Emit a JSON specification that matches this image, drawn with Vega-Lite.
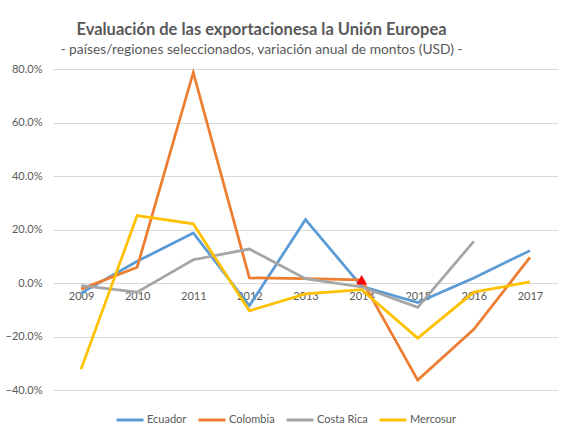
{
  "$schema": "https://vega.github.io/schema/vega-lite/v6.json",
  "autosize": "none",
  "width": 505,
  "height": 321,
  "padding": {"left": 53, "top": 69, "right": 15, "bottom": 46},
  "background": "white",
  "title": {
    "text": "Evaluación de las exportacionesa la Unión Europea",
    "subtitle": "- países/regiones seleccionados, variación anual de montos (USD) -",
    "anchor": "middle",
    "dx": -44,
    "offset": 6,
    "font": "Lato",
    "fontSize": 16.5,
    "fontWeight": "bold",
    "color": "#595959",
    "subtitleFont": "Lato",
    "subtitleFontSize": 13.8,
    "subtitleColor": "#595959",
    "subtitlePadding": 5
  },
  "config": {
    "view": {"stroke": null},
    "font": "Lato",
    "axis": {"labelColor": "#595959", "labelFontSize": 11, "labelFont": "Lato"},
    "legend": {"labelColor": "#595959", "labelFontSize": 11, "labelFont": "Lato"}
  },
  "data": {
    "values": [
      {"year": "2009", "pais": "Ecuador", "var": -0.038},
      {"year": "2010", "pais": "Ecuador", "var": 0.081},
      {"year": "2011", "pais": "Ecuador", "var": 0.187},
      {"year": "2012", "pais": "Ecuador", "var": -0.085},
      {"year": "2013", "pais": "Ecuador", "var": 0.237},
      {"year": "2014", "pais": "Ecuador", "var": -0.012},
      {"year": "2015", "pais": "Ecuador", "var": -0.073},
      {"year": "2016", "pais": "Ecuador", "var": 0.019},
      {"year": "2017", "pais": "Ecuador", "var": 0.121},
      {"year": "2009", "pais": "Colombia", "var": -0.023},
      {"year": "2010", "pais": "Colombia", "var": 0.059},
      {"year": "2011", "pais": "Colombia", "var": 0.787},
      {"year": "2012", "pais": "Colombia", "var": 0.019},
      {"year": "2013", "pais": "Colombia", "var": 0.016},
      {"year": "2014", "pais": "Colombia", "var": 0.012},
      {"year": "2015", "pais": "Colombia", "var": -0.363},
      {"year": "2016", "pais": "Colombia", "var": -0.173},
      {"year": "2017", "pais": "Colombia", "var": 0.096},
      {"year": "2009", "pais": "Costa Rica", "var": -0.010},
      {"year": "2010", "pais": "Costa Rica", "var": -0.034},
      {"year": "2011", "pais": "Costa Rica", "var": 0.087},
      {"year": "2012", "pais": "Costa Rica", "var": 0.127},
      {"year": "2013", "pais": "Costa Rica", "var": 0.016},
      {"year": "2014", "pais": "Costa Rica", "var": -0.015},
      {"year": "2015", "pais": "Costa Rica", "var": -0.091},
      {"year": "2016", "pais": "Costa Rica", "var": 0.156},
      {"year": "2009", "pais": "Mercosur", "var": -0.322},
      {"year": "2010", "pais": "Mercosur", "var": 0.252},
      {"year": "2011", "pais": "Mercosur", "var": 0.221},
      {"year": "2012", "pais": "Mercosur", "var": -0.104},
      {"year": "2013", "pais": "Mercosur", "var": -0.041},
      {"year": "2014", "pais": "Mercosur", "var": -0.025},
      {"year": "2015", "pais": "Mercosur", "var": -0.206},
      {"year": "2016", "pais": "Mercosur", "var": -0.034},
      {"year": "2017", "pais": "Mercosur", "var": 0.004}
    ]
  },
  "layer": [
    {
      "mark": {"type": "line", "strokeWidth": 2.75},
      "encoding": {
        "x": {
          "field": "year",
          "type": "ordinal",
          "scale": {"padding": 0.5},
          "axis": {
            "title": null,
            "labelAngle": 0,
            "offset": -107,
            "domain": false,
            "ticks": false,
            "grid": false,
            "labelPadding": 7
          }
        },
        "y": {
          "field": "var",
          "type": "quantitative",
          "scale": {"domain": [-0.4, 0.8], "nice": false},
          "axis": {
            "title": null,
            "values": [-0.4, -0.2, 0, 0.2, 0.4, 0.6, 0.8],
            "format": ".1%",
            "domain": false,
            "ticks": false,
            "gridColor": "#D9D9D9",
            "gridWidth": 1,
            "labelPadding": 11
          }
        },
        "color": {
          "field": "pais",
          "type": "nominal",
          "sort": ["Ecuador", "Colombia", "Costa Rica", "Mercosur"],
          "scale": {
            "domain": ["Ecuador", "Colombia", "Costa Rica", "Mercosur"],
            "range": ["#5B9BD5", "#ED7D31", "#A5A5A5", "#FFC000"]
          },
          "legend": {
            "title": null,
            "orient": "none",
            "direction": "horizontal",
            "legendX": 62,
            "legendY": 336,
            "symbolType": "stroke",
            "symbolStrokeWidth": 3,
            "symbolSize": 729,
            "columnPadding": 5,
            "labelOffset": 2
          }
        }
      }
    },
    {
      "data": {"values": [{"year": "2014", "var": 0.012}]},
      "mark": {"type": "point", "shape": "triangle-up", "filled": true, "color": "#FF0000", "size": 120, "opacity": 1},
      "encoding": {
        "x": {"field": "year", "type": "ordinal"},
        "y": {"field": "var", "type": "quantitative"}
      }
    }
  ]
}
